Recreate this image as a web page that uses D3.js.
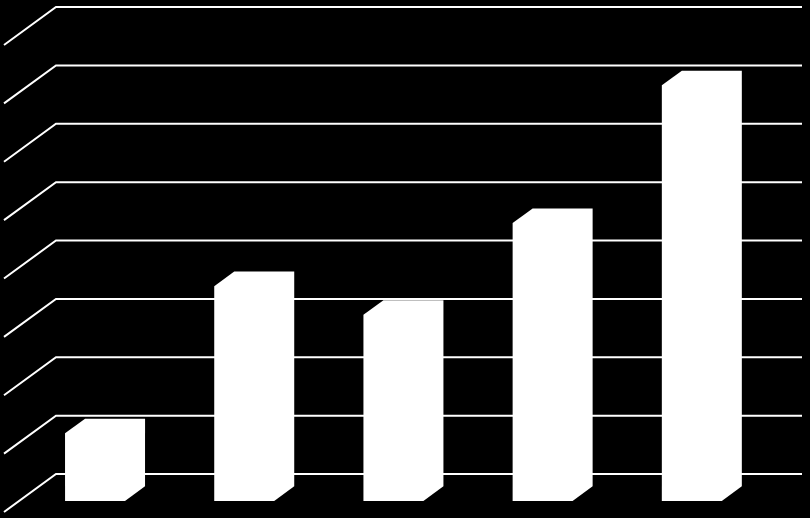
<!DOCTYPE html>
<html>
<head>
<meta charset="utf-8">
<script src="https://cdn.jsdelivr.net/npm/d3@7"></script>
<style>
  html, body { margin: 0; padding: 0; background: #000; }
  #chart { width: 810px; height: 518px; }
</style>
</head>
<body>
<div id="chart"></div>
<script>
// chart data (no labels are shown in the picture)
const categories = ["1", "2", "3", "4", "5"];
const values = [11.6, 36.8, 31.9, 47.6, 71.2];
const ticks = [0, 10, 20, 30, 40, 50, 60, 70, 80];

const width = 810, height = 518;

// oblique projection: depth 0 = front plane, 1 = back wall
const depthX = 52, depthY = -38;
const barFront = 0.29, barBack = 0.675;

const svg = d3.select("#chart").append("svg")
    .attr("width", width)
    .attr("height", height);

svg.append("rect")
    .attr("width", width)
    .attr("height", height)
    .attr("fill", "#000");

// scales on the front plane
const x = d3.scaleBand()
    .domain(categories)
    .range([4, 750]);

const y = d3.scaleLinear()
    .domain([0, 80])
    .range([512, 45]);

function project(px, v, d) {
    return [px + d * depthX, y(v) + d * depthY];
}

// gridlines: side wall diagonal + back wall horizontal
const grid = svg.append("g").attr("class", "grid");
ticks.forEach(t => {
    const a = project(x.range()[0], t, 0);
    const b = project(x.range()[0], t, 1);
    const c = [802, b[1]];
    grid.append("path")
        .attr("d", d3.line()([a, b, c]))
        .attr("fill", "none")
        .attr("stroke", "#fff")
        .attr("stroke-width", 2);
});

// bars: all faces are white, so draw the outline of the box as one shape
const barOffset = 0.308, barWidth = 0.402;
const bars = svg.append("g").attr("class", "bars");

categories.forEach((c, i) => {
    const v = values[i];
    const x0 = x(c) + x.bandwidth() * barOffset;
    const x1 = x0 + x.bandwidth() * barWidth;

    const outline = [
        project(x0, 0, barFront),
        project(x1, 0, barFront),
        project(x1, 0, barBack),
        project(x1, v, barBack),
        project(x0, v, barBack),
        project(x0, v, barFront)
    ];

    bars.append("polygon")
        .attr("points", outline.map(p => p.join(",")).join(" "))
        .attr("fill", "#fff");
});
</script>
</body>
</html>
